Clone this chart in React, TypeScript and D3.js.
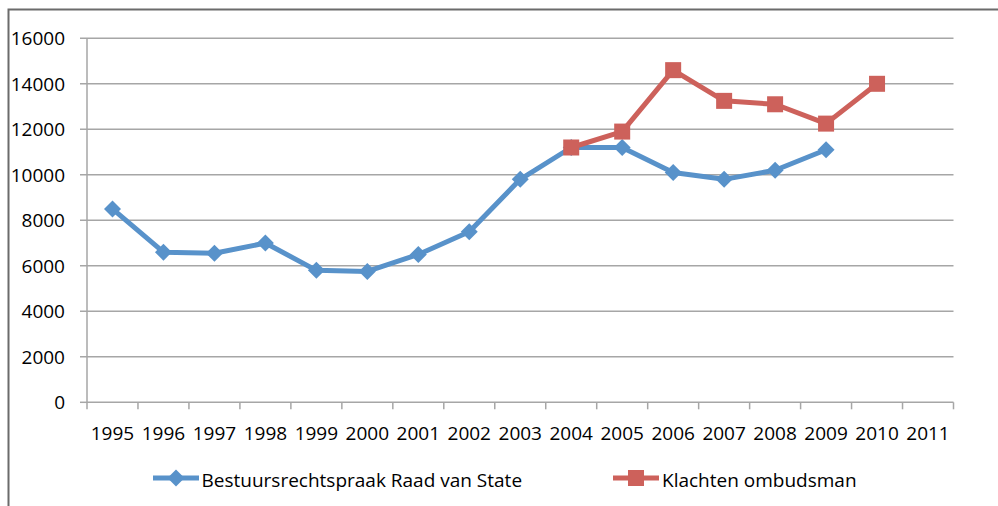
import React from "react";
import * as d3 from "d3";

const years = ["1995","1996","1997","1998","1999","2000","2001","2002","2003","2004","2005","2006","2007","2008","2009","2010","2011"];
const yTicks = [0, 2000, 4000, 6000, 8000, 10000, 12000, 14000, 16000];
const raadYears = ["1995","1996","1997","1998","1999","2000","2001","2002","2003","2004","2005","2006","2007","2008","2009"];
const raadValues = [8500, 6600, 6550, 7000, 5800, 5750, 6500, 7500, 9800, 11200, 11200, 10100, 9800, 10200, 11100];
const ombudsYears = ["2004","2005","2006","2007","2008","2009","2010"];
const ombudsValues = [11200, 11900, 14600, 13250, 13100, 12250, 14000];
const seriesNames = ["Bestuursrechtspraak Raad van State", "Klachten ombudsman"];

const BLUE = "#5892CA";
const RED = "#CD615B";
const FONT = "'Open Sans', Lato, sans-serif";
const FS = 19;

export default function App() {
  const W = 998, H = 506;
  const left = 87, right = 953.5, top = 38.3, bottom = 402.3;
  const x = d3.scaleBand<string>().domain(years).range([left, right]).padding(0);
  const y = d3.scaleLinear().domain([0, 16000]).range([bottom, top]);
  const cx = (yr: string) => (x(yr) as number) + x.bandwidth() / 2;
  const line = d3.line<[string, number]>().x(d => cx(d[0])).y(d => y(d[1]));
  const raad: [string, number][] = raadYears.map((yr, i) => [yr, raadValues[i]]);
  const omb: [string, number][] = ombudsYears.map((yr, i) => [yr, ombudsValues[i]]);
  const diamond = (px: number, py: number, r = 8.5) => `M${px},${py - r}L${px + r},${py}L${px},${py + r}L${px - r},${py}Z`;
  const sq = 16;
  const tickXs = years.map(yr => x(yr) as number).concat([right]);

  return (
    <svg width={W} height={H} style={{ position: "absolute", left: 0, top: 0, background: "#fff" }}>
      <path d={`M8.5,${H}V9.5H${W}`} fill="none" stroke="#6b6b6b" strokeWidth={2} />
      {yTicks.map(t => (
        <g key={t}>
          {t > 0 && <line x1={80} x2={right} y1={y(t)} y2={y(t)} stroke="#a6a6a6" strokeWidth={1.5} />}
          {t === 0 && <line x1={80} x2={left} y1={y(t)} y2={y(t)} stroke="#a6a6a6" strokeWidth={1.5} />}
          <text x={65} y={y(t) + 7} textAnchor="end" fontFamily={FONT} fontSize={FS} fill="#000">{t}</text>
        </g>
      ))}
      <line x1={left} x2={left} y1={top} y2={bottom} stroke="#a6a6a6" strokeWidth={1.5} />
      <line x1={left} x2={right} y1={bottom} y2={bottom} stroke="#a6a6a6" strokeWidth={1.5} />
      {tickXs.map((tx, i) => (
        <line key={i} x1={tx} x2={tx} y1={bottom} y2={bottom + 7} stroke="#a6a6a6" strokeWidth={1.5} />
      ))}
      {years.map(yr => (
        <text key={yr} x={cx(yr)} y={439.5} textAnchor="middle" fontFamily={FONT} fontSize={FS} fill="#000">{yr}</text>
      ))}
      <path d={line(raad) || ""} fill="none" stroke={BLUE} strokeWidth={5} strokeLinejoin="round" />
      {raad.map(d => (
        <path key={d[0]} d={diamond(cx(d[0]), y(d[1]))} fill={BLUE} />
      ))}
      <path d={line(omb) || ""} fill="none" stroke={RED} strokeWidth={5} strokeLinejoin="round" />
      {omb.map(d => (
        <rect key={d[0]} x={cx(d[0]) - sq / 2} y={y(d[1]) - sq / 2} width={sq} height={sq} fill={RED} />
      ))}
      <g>
        <line x1={153} x2={199} y1={478} y2={478} stroke={BLUE} strokeWidth={5} />
        <path d={diamond(176, 478)} fill={BLUE} />
        <text x={201.5} y={486.5} fontFamily={FONT} fontSize={FS} fill="#000">{seriesNames[0]}</text>
        <line x1={613} x2={659} y1={478} y2={478} stroke={RED} strokeWidth={5} />
        <rect x={636 - sq / 2} y={478 - sq / 2} width={sq} height={sq} fill={RED} />
        <text x={662} y={486.5} fontFamily={FONT} fontSize={FS} fill="#000">{seriesNames[1]}</text>
      </g>
    </svg>
  );
}
